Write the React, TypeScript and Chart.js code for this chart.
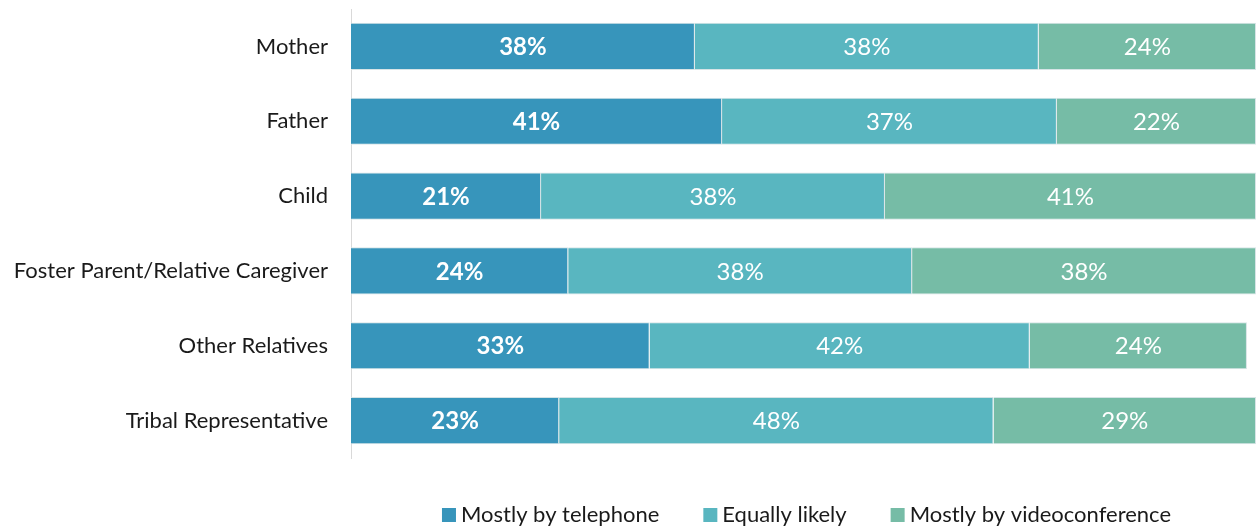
import React, { useEffect, useRef } from "react";
import { Chart, registerables } from "chart.js";

Chart.register(...registerables);

const categories = [
  "Mother",
  "Father",
  "Child",
  "Foster Parent/Relative Caregiver",
  "Other Relatives",
  "Tribal Representative",
];
const telephone = [38, 41, 21, 24, 33, 23];
const equally = [38, 37, 38, 38, 42, 48];
const video = [24, 22, 41, 38, 24, 29];
const seriesNames = ["Mostly by telephone", "Equally likely", "Mostly by videoconference"];
const seriesColors = ["#3795bb", "#59b6c0", "#76bca6"];

const FONT = "Lato, 'Open Sans', sans-serif";

const labelPlugin = {
  id: "barLabels",
  afterDatasetsDraw(chart: any) {
    const ctx = chart.ctx;
    ctx.save();
    ctx.textAlign = "center";
    ctx.textBaseline = "middle";
    ctx.fillStyle = "#ffffff";
    chart.data.datasets.forEach((ds: any, di: number) => {
      const meta = chart.getDatasetMeta(di);
      ctx.font = (di === 0 ? "bold " : "") + "24px " + FONT;
      meta.data.forEach((bar: any, i: number) => {
        const x = (bar.x + bar.base) / 2;
        ctx.fillText(ds.data[i] + "%", x, bar.y + 1);
      });
    });
    ctx.restore();
  },
};

const legendPlugin = {
  id: "customLegend",
  afterDraw(chart: any) {
    const ctx = chart.ctx;
    ctx.save();
    ctx.font = "22px " + FONT;
    ctx.textBaseline = "middle";
    ctx.textAlign = "left";
    const box = 14;
    const gapBox = 5;
    const gapItem = 44;
    const widths = seriesNames.map((n) => ctx.measureText(n).width);
    const total =
      widths.reduce((a, w) => a + box + gapBox + w, 0) + gapItem * (seriesNames.length - 1);
    const center = (chart.chartArea.left + chart.chartArea.right) / 2 + 3;
    let x = center - total / 2;
    const y = chart.chartArea.bottom + 57;
    seriesNames.forEach((n, i) => {
      ctx.fillStyle = seriesColors[i];
      ctx.fillRect(x, y - box / 2, box, box);
      x += box + gapBox;
      ctx.fillStyle = "#1a1a1a";
      ctx.fillText(n, x, y);
      x += widths[i] + gapItem;
    });
    ctx.restore();
  },
};

export default function App() {
  const ref = useRef<HTMLCanvasElement>(null);
  useEffect(() => {
    if (!ref.current) return;
    const data = [telephone, equally, video];
    const chart = new Chart(ref.current, {
      type: "bar",
      data: {
        labels: categories,
        datasets: seriesNames.map((name, i) => ({
          label: name,
          data: data[i],
          backgroundColor: seriesColors[i],
          borderColor: "rgba(215,228,230,1)",
          borderWidth: 1,
          categoryPercentage: 1,
          barPercentage: 0.63,
        })),
      },
      options: {
        indexAxis: "y",
        animation: false,
        responsive: true,
        maintainAspectRatio: false,
        layout: { padding: { top: 9, right: 0, bottom: 69, left: 0 } },
        scales: {
          x: {
            stacked: true,
            min: 0,
            max: 100,
            display: false,
          },
          y: {
            stacked: true,
            grid: { display: false },
            border: { display: true, color: "#d9d9d9", width: 1 },
            ticks: {
              color: "#1a1a1a",
              font: { family: FONT, size: 22 },
              padding: 15,
            },
            afterFit(scale: any) {
              scale.width = 351;
              scale.paddingTop = 0;
              scale.paddingBottom = 0;
            },
          },
        },
        plugins: {
          legend: { display: false },
          tooltip: { enabled: false },
        },
      },
      plugins: [labelPlugin, legendPlugin],
    });
    return () => chart.destroy();
  }, []);
  return (
    <div style={{ position: "fixed", left: 0, top: 0, width: 1256, height: 527 }}>
      <canvas ref={ref} />
    </div>
  );
}
